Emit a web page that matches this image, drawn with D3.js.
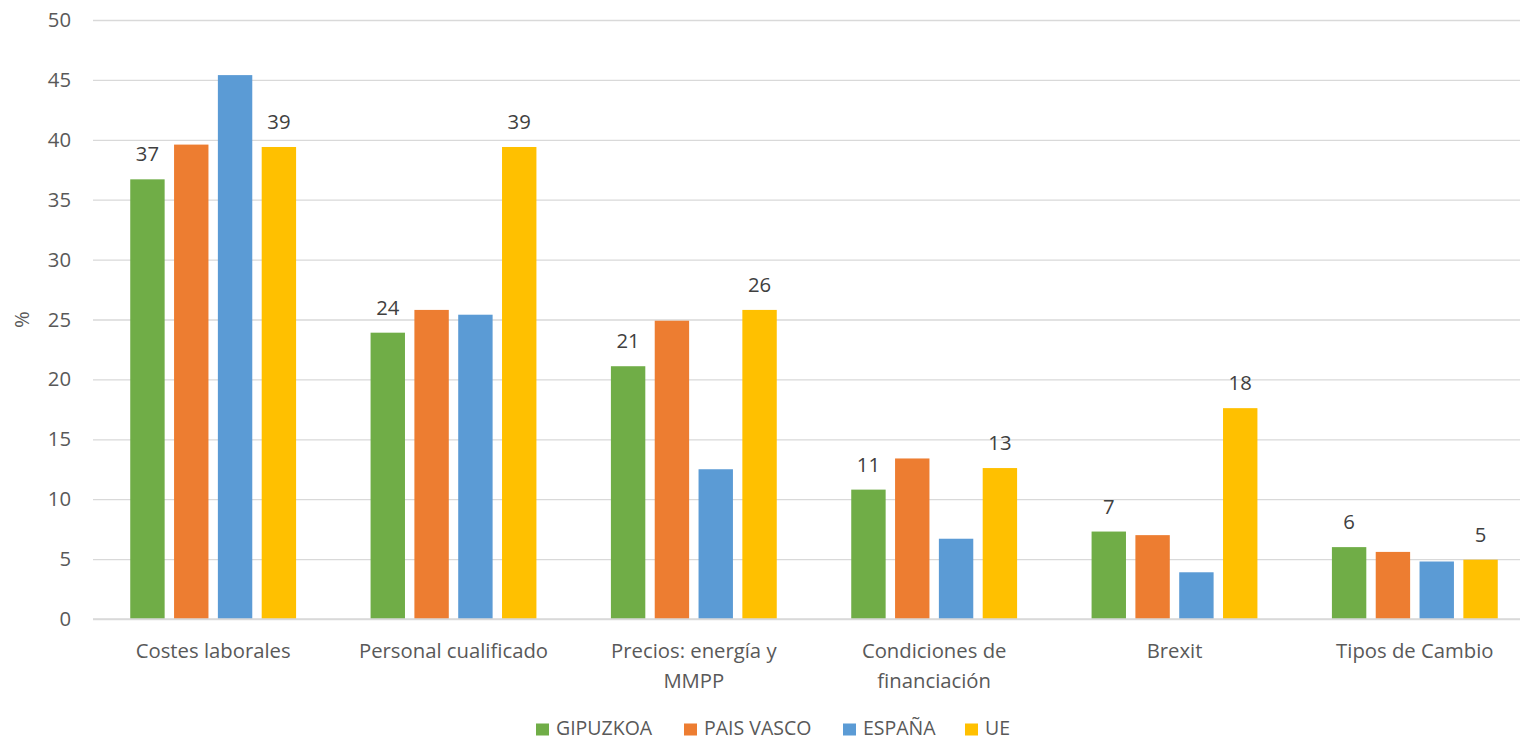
<!DOCTYPE html>
<html><head><meta charset="utf-8">
<script src="https://cdn.jsdelivr.net/npm/d3@7"></script>
<style>
html,body{margin:0;padding:0;background:#fff;}
svg{display:block;font-family:"Open Sans",sans-serif;}
</style></head>
<body>
<svg id="c" width="1520" height="741"></svg>
<script>
const categories = ["Costes laborales","Personal cualificado","Precios: energía y MMPP","Condiciones de financiación","Brexit","Tipos de Cambio"];
const categoryLines = [["Costes laborales"],["Personal cualificado"],["Precios: energía y","MMPP"],["Condiciones de","financiación"],["Brexit"],["Tipos de Cambio"]];
const seriesNames = ["GIPUZKOA","PAIS VASCO","ESPAÑA","UE"];
const gipuzkoa  = [36.7, 23.9, 21.1, 10.8, 7.3, 6.0];
const paisVasco = [39.6, 25.8, 24.9, 13.4, 7.0, 5.6];
const espana    = [45.4, 25.4, 12.5, 6.7, 3.9, 4.8];
const ue        = [39.4, 39.4, 25.8, 12.6, 17.6, 4.95];
const yTicks = [0,5,10,15,20,25,30,35,40,45,50];
const labeledSeries = ["GIPUZKOA","UE"];
const colors = ["#70AD47","#ED7D31","#5B9BD5","#FFC000"];

(function(){
const FS = "20.3px";
const seriesValues = [gipuzkoa, paisVasco, espana, ue];
const svg = d3.select("#c");
const L = 93, R = 1535, T = 20, B = 619;

const x = d3.scaleBand().domain(categories).range([L, R]).paddingInner(0).paddingOuter(0);
const x1 = d3.scaleBand().domain(seriesNames).range([0, x.bandwidth()]).paddingInner(0.215).paddingOuter(0.85);
const y = d3.scaleLinear().domain([0,50]).range([B, T]);

const grid = svg.append("g").attr("transform",`translate(${L},0)`)
  .call(d3.axisLeft(y).tickValues(yTicks).tickSize(-(R-L)).tickFormat(""));
grid.select(".domain").remove();
grid.selectAll("line").attr("stroke","#d9d9d9").attr("stroke-width",1.3);

const yax = svg.append("g").attr("transform",`translate(${L},0)`)
  .call(d3.axisLeft(y).tickValues(yTicks).tickSize(0).tickPadding(22));
yax.select(".domain").remove();
yax.selectAll("text").attr("fill","#595959").attr("font-size",FS).attr("font-family","'Open Sans', sans-serif");

svg.append("text").attr("transform",`translate(29,${(T+B)/2}) rotate(-90)`)
  .attr("text-anchor","middle").attr("fill","#595959").attr("font-size",FS).text("%");

seriesNames.forEach((s,si)=>{
  const g = svg.append("g");
  g.selectAll("rect").data(categories).join("rect")
    .attr("x", c => x(c) + x1(s))
    .attr("width", x1.bandwidth())
    .attr("y", (c,i) => y(seriesValues[si][i]))
    .attr("height", (c,i) => y(0) - y(seriesValues[si][i]))
    .attr("fill", colors[si]);
  if (labeledSeries.includes(s)) {
    g.selectAll("text").data(categories).join("text")
      .attr("x", c => x(c) + x1(s) + x1.bandwidth()/2)
      .attr("y", (c,i) => y(seriesValues[si][i]) - 18)
      .attr("text-anchor","middle").attr("fill","#404040").attr("font-size",FS)
      .text((c,i) => d3.format(".0f")(seriesValues[si][i]));
  }
});

svg.append("line").attr("x1",L).attr("x2",R).attr("y1",y(0)).attr("y2",y(0))
  .attr("stroke","#d9d9d9").attr("stroke-width",1.3);

categories.forEach((c,i)=>{
  const cx = x(c)+x.bandwidth()/2;
  const t = svg.append("text").attr("x", cx).attr("y", 658)
    .attr("text-anchor","middle").attr("fill","#595959").attr("font-size",FS);
  categoryLines[i].forEach((ln,j)=>{
    t.append("tspan").attr("x", cx).attr("dy", j===0?0:30).text(ln);
  });
});

const legendX = [536, 684, 843, 965];
const lg = svg.append("g");
seriesNames.forEach((s,i)=>{
  lg.append("rect").attr("x",legendX[i]).attr("y",723.5).attr("width",13).attr("height",12).attr("fill",colors[i]);
  lg.append("text").attr("x",legendX[i]+20).attr("y",735).attr("fill","#595959").attr("font-size","19.5px").text(s);
});
})();
</script>
</body></html>
